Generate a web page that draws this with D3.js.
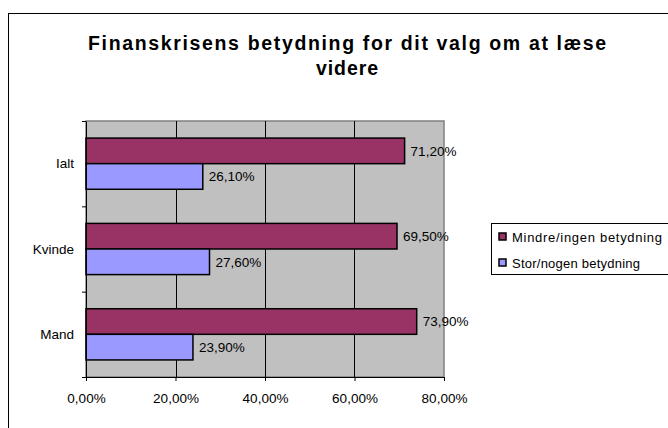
<!DOCTYPE html>
<html>
<head>
<meta charset="utf-8">
<script src="https://cdn.jsdelivr.net/npm/d3@7"></script>
<style>
  body { margin: 0; background: #fff; }
  svg text { font-family: "Liberation Sans", Arial, sans-serif; fill: #000; }
</style>
</head>
<body>
<div id="container"></div>
<script>
const W = 668;
const H = 428;

const categories = ["Ialt", "Kvinde", "Mand"];
const seriesNames = ["Mindre/ingen betydning", "Stor/nogen betydning"];
const mindreValues = [0.712, 0.695, 0.739];
const storValues = [0.261, 0.276, 0.239];
const xTicks = [0, 0.2, 0.4, 0.6, 0.8];
const titleLines = ["Finanskrisens betydning for dit valg om at læse", "videre"];

const colors = ["#993366", "#9999ff"];
const plot = { left: 86, right: 444, top: 121, bottom: 377 };
const fs = 13.5;

const fmt = v => (v * 100).toFixed(2).replace(".", ",") + "%";

const rows = categories.map((c, i) => ({
  cat: c,
  vals: [mindreValues[i], storValues[i]]
}));

const svg = d3.select("#container")
  .append("svg")
  .attr("width", W)
  .attr("height", H);

// outer chart frame (clipped by the window on right and bottom)
svg.append("rect")
  .attr("x", 8.5)
  .attr("y", 13.5)
  .attr("width", W + 10)
  .attr("height", H + 10)
  .attr("fill", "#fff")
  .attr("stroke", "#000");

// title
svg.selectAll("text.title")
  .data(titleLines)
  .enter()
  .append("text")
  .attr("class", "title")
  .attr("x", 347)
  .attr("y", (d, i) => 50 + i * 25)
  .attr("text-anchor", "middle")
  .attr("font-size", 19.5)
  .attr("font-weight", "bold")
  .attr("textLength", (d, i) => (i === 0 ? 518 : 62))
  .attr("lengthAdjust", "spacing")
  .text(d => d);

const x = d3.scaleLinear()
  .domain([0, 0.8])
  .range([plot.left, plot.right]);

const y = d3.scaleBand()
  .domain(categories)
  .range([plot.top, plot.bottom])
  .paddingInner(0.4)
  .paddingOuter(0.2);

const ySub = d3.scaleBand()
  .domain([0, 1])
  .range([0, y.bandwidth()]);

// plot area
svg.append("rect")
  .attr("x", plot.left)
  .attr("y", plot.top)
  .attr("width", plot.right - plot.left)
  .attr("height", plot.bottom - plot.top)
  .attr("fill", "#c0c0c0")
  .attr("stroke", "#808080")
  .attr("stroke-width", 1.5);

// gridlines
svg.append("g")
  .selectAll("line")
  .data(xTicks.slice(1, -1))
  .enter()
  .append("line")
  .attr("x1", d => Math.round(x(d)) + 0.5)
  .attr("x2", d => Math.round(x(d)) + 0.5)
  .attr("y1", plot.top)
  .attr("y2", plot.bottom)
  .attr("stroke", "#000");

// bars
const groups = svg.append("g")
  .selectAll("g")
  .data(rows)
  .enter()
  .append("g")
  .attr("transform", d => `translate(0, ${y(d.cat)})`);

groups.selectAll("rect")
  .data(d => d.vals)
  .enter()
  .append("rect")
  .attr("x", x(0))
  .attr("y", (d, i) => ySub(i))
  .attr("width", d => x(d) - x(0))
  .attr("height", ySub.bandwidth())
  .attr("fill", (d, i) => colors[i])
  .attr("stroke", "#000")
  .attr("stroke-width", 1.5);

groups.selectAll("text")
  .data(d => d.vals)
  .enter()
  .append("text")
  .attr("x", d => x(d) + 6)
  .attr("y", (d, i) => ySub(i) + ySub.bandwidth() / 2)
  .attr("dy", "0.35em")
  .attr("font-size", fs)
  .text(d => fmt(d));

// x axis
const xAxis = d3.axisBottom(x)
  .tickValues(xTicks)
  .tickFormat(fmt)
  .tickSize(4)
  .tickPadding(12);

svg.append("g")
  .attr("transform", `translate(0, ${plot.bottom})`)
  .call(xAxis)
  .call(g => g.select(".domain").attr("stroke", "#000"))
  .call(g => g.selectAll("text").attr("font-size", fs).attr("font-family", null));

// y axis: ticks at category boundaries
const yEdges = d3.scaleLinear()
  .domain([0, categories.length])
  .range([plot.top, plot.bottom]);

svg.append("g")
  .attr("transform", `translate(${plot.left}, 0)`)
  .call(d3.axisLeft(yEdges).tickValues(d3.range(categories.length + 1)).tickFormat("").tickSize(4).tickSizeOuter(0))
  .call(g => g.select(".domain").attr("stroke", "#000"));

svg.append("g")
  .selectAll("text")
  .data(categories)
  .enter()
  .append("text")
  .attr("x", 74)
  .attr("y", d => y(d) + y.bandwidth() / 2)
  .attr("dy", "0.35em")
  .attr("text-anchor", "end")
  .attr("font-size", fs)
  .text(d => d);

// legend
const legend = svg.append("g").attr("transform", "translate(491, 223)");
legend.append("rect")
  .attr("x", 0.5)
  .attr("y", 0.5)
  .attr("width", 190)
  .attr("height", 51)
  .attr("fill", "#fff")
  .attr("stroke", "#000");

const items = legend.selectAll("g.item")
  .data(seriesNames)
  .enter()
  .append("g")
  .attr("class", "item")
  .attr("transform", (d, i) => `translate(0, ${14 + i * 26})`);

items.append("rect")
  .attr("x", 8)
  .attr("y", -4)
  .attr("width", 7)
  .attr("height", 7)
  .attr("fill", (d, i) => colors[i])
  .attr("stroke", "#000")
  .attr("stroke-width", 1.5);

items.append("text")
  .attr("x", 21)
  .attr("y", 0)
  .attr("dy", "0.35em")
  .attr("font-size", 13)
  .attr("textLength", (d, i) => (i === 0 ? 150 : 128))
  .attr("lengthAdjust", "spacing")
  .text(d => d);
</script>
</body>
</html>
